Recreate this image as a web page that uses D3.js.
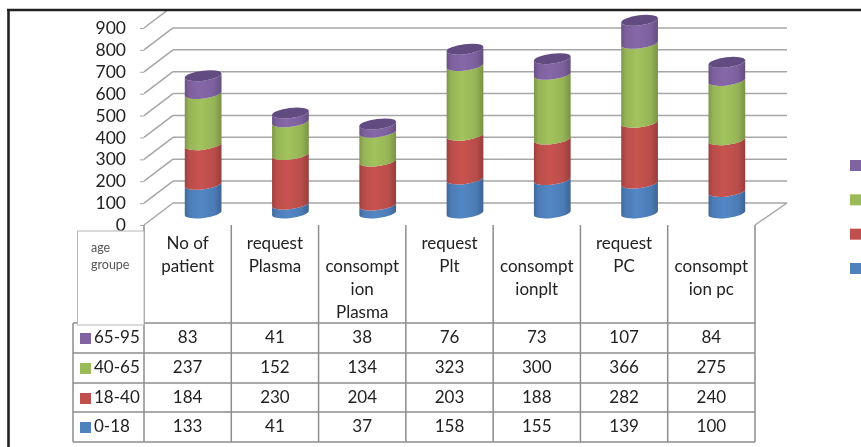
<!DOCTYPE html>
<html>
  <head>
    <meta charset="utf-8">
    <title>Age groups</title>
    <script src="https://d3js.org/d3.v7.min.js"></script>
    <style>
      html, body { margin: 0; padding: 0; background: #fff; overflow: hidden; }
      svg { display: block; filter: blur(0.4px); }
      text { font-family: Lato, "Open Sans", sans-serif; fill: #222; }
    </style>
  </head>
  <body>
    <script>
      // leading \n = label starts on the second line of the header cell
      var categories = ["No of\npatient", "request\nPlasma", "\nconsompt\nion\nPlasma", "request\nPlt", "\nconsompt\nionplt", "request\nPC", "\nconsompt\nion pc"];
      var groups = ["0-18", "18-40", "40-65", "65-95"];
      var age0to18 = [133, 41, 37, 158, 155, 139, 100];
      var age18to40 = [184, 230, 204, 203, 188, 282, 240];
      var age40to65 = [237, 152, 134, 323, 300, 366, 275];
      var age65to95 = [83, 41, 38, 76, 73, 107, 84];
      var colors = ["#4f81bd", "#c0504d", "#9bbb59", "#8064a2"];
      var yTicks = [0, 100, 200, 300, 400, 500, 600, 700, 800, 900];

      var width = 861, height = 447;
      var svg = d3.select("body").append("svg")
        .attr("width", width)
        .attr("height", height);
      var defs = svg.append("defs");

      var series = [age0to18, age18to40, age40to65, age65to95];
      var rows = categories.map(function(c, i) {
        var row = {category: c};
        groups.forEach(function(g, j) { row[g] = series[j][i]; });
        return row;
      });
      var stacked = d3.stack().keys(groups)(rows);

      var x = d3.scaleBand().domain(categories).range([144, 755]);
      var y = d3.scaleLinear().domain([0, 900]).range([225, 28]);
      // bars stand mid floor, a bit shorter than the front axis because of the perspective
      var barY = d3.scaleLinear().domain([0, 900]).range([213, 19]);
      var depthX = 29, depthY = -22, barShift = 15.5;
      var rx = 18.5, ry = 5, tilt = -7;

      // cylinder shading
      function addGradient(id, color) {
        var g = defs.append("linearGradient").attr("id", id);
        var c = d3.color(color);
        var stops = [[0, c.darker(0.6)], [0.12, c.darker(0.1)], [0.42, c.brighter(0.12)], [0.8, c.darker(0.1)], [1, c.darker(0.7)]];
        stops.forEach(function(s) {
          g.append("stop").attr("offset", s[0]).attr("stop-color", s[1].formatHex());
        });
      }
      colors.forEach(function(c, i) { addGradient("cyl" + i, c); });

      var clip = defs.append("clipPath").attr("id", "frameClip");
      clip.append("rect").attr("x", 10).attr("y", 11).attr("width", width).attr("height", height);

      // walls and floor
      var wall = svg.append("g").attr("clip-path", "url(#frameClip)")
        .attr("stroke", "#a6a6a6").attr("stroke-width", 1.5).attr("fill", "none");
      yTicks.forEach(function(t) {
        wall.append("line")
          .attr("x1", x.range()[0]).attr("y1", y(t))
          .attr("x2", x.range()[0] + depthX).attr("y2", y(t) + depthY);
        wall.append("line")
          .attr("x1", x.range()[0] + depthX).attr("y1", y(t) + depthY)
          .attr("x2", x.range()[1] + depthX + 3).attr("y2", y(t) + depthY);
      });
      wall.append("line")
        .attr("x1", x.range()[1]).attr("y1", y(0))
        .attr("x2", x.range()[1] + depthX + 3).attr("y2", y(0) + depthY);

      // y axis, only the labels and the little ticks show
      var axis = svg.append("g")
        .attr("transform", "translate(" + x.range()[0] + ",0)")
        .call(d3.axisLeft(y).tickValues(yTicks).tickSize(4).tickPadding(14));
      axis.select(".domain").remove();
      axis.selectAll("line").attr("stroke", "#a6a6a6");
      axis.selectAll("text").style("font-size", "17.5px").style("font-family", "Lato").attr("fill", "#222");

      function barX(cat) { return x(cat) + x.bandwidth() / 2 + barShift; }
      var a = tilt * Math.PI / 180;
      var dx = rx * Math.cos(a), dy = rx * Math.sin(a);

      function segmentPath(cx, yBottom, yTop) {
        return "M" + (cx - dx) + "," + (yBottom - dy)
          + "A" + rx + "," + ry + " " + tilt + " 0 0 " + (cx + dx) + "," + (yBottom + dy)
          + "L" + (cx + dx) + "," + (yTop + dy)
          + "A" + rx + "," + ry + " " + tilt + " 0 1 " + (cx - dx) + "," + (yTop - dy)
          + "Z";
      }

      var bars = svg.append("g");
      stacked.forEach(function(layer, i) {
        bars.append("g").selectAll("path")
          .data(layer)
          .join("path")
          .attr("fill", "url(#cyl" + i + ")")
          .attr("d", function(d) { return segmentPath(barX(d.data.category), barY(d[0]), barY(d[1])); });
      });

      // lid of each cylinder
      bars.append("g").selectAll("ellipse")
        .data(stacked[3])
        .join("ellipse")
        .attr("rx", rx).attr("ry", ry)
        .attr("fill", "#624b80")
        .attr("transform", function(d) {
          return "translate(" + barX(d.data.category) + "," + barY(d[1]) + ") rotate(" + tilt + ")";
        });

      // data table
      var rowLines = [323, 353, 383, 412, 442];
      var columns = categories.map(function(c) { return x(c); }).concat([x.range()[1]]);
      var table = svg.append("g");
      var tableLines = table.append("g").attr("stroke", "#8c8c8c").attr("stroke-width", 1.5);
      columns.forEach(function(cx) {
        tableLines.append("line").attr("x1", cx).attr("x2", cx).attr("y1", 225).attr("y2", 442);
      });
      rowLines.forEach(function(ry2) {
        tableLines.append("line").attr("x1", 73).attr("x2", x.range()[1]).attr("y1", ry2).attr("y2", ry2);
      });
      tableLines.append("line").attr("x1", 73).attr("x2", 73).attr("y1", 323).attr("y2", 442);

      // corner cell sits on top of the row labels column
      table.append("rect")
        .attr("x", 77.5).attr("y", 231).attr("width", 66.5).attr("height", 94)
        .attr("fill", "#fff").attr("stroke", "#b5b5b5");
      table.append("text").attr("x", 91).attr("y", 252)
        .style("font-size", "12.5px").style("fill", "#555").text("age");
      table.append("text").attr("x", 91).attr("y", 269)
        .style("font-size", "12.5px").style("fill", "#555").text("groupe");

      categories.forEach(function(c) {
        c.split("\n").forEach(function(line, i) {
          table.append("text")
            .attr("x", x(c) + x.bandwidth() / 2)
            .attr("y", 249 + i * 23)
            .attr("text-anchor", "middle")
            .style("font-size", "17px")
            .text(line);
        });
      });

      // rows run top down, oldest group first
      d3.range(groups.length).reverse().forEach(function(g, r) {
        var baseline = rowLines[r] + 20;
        table.append("rect")
          .attr("x", 80).attr("y", baseline - 10).attr("width", 11).attr("height", 11)
          .attr("fill", colors[g]);
        table.append("text").attr("x", 94).attr("y", baseline)
          .style("font-size", "17px").text(groups[g]);
        series[g].forEach(function(v, i) {
          table.append("text")
            .attr("x", x(categories[i]) + x.bandwidth() / 2)
            .attr("y", baseline)
            .attr("text-anchor", "middle")
            .style("font-size", "17px")
            .text(v);
        });
      });

      // legend, its labels are cut off by the edge of the picture
      var legendY = d3.scalePoint().domain(d3.range(groups.length).reverse()).range([165, 268]);
      svg.append("g").selectAll("rect")
        .data(d3.range(groups.length))
        .join("rect")
        .attr("x", 850).attr("width", 11).attr("height", 11)
        .attr("y", function(g) { return legendY(g) - 5; })
        .attr("fill", function(g) { return colors[g]; });

      // frame of the page the chart was scanned from
      var frame = svg.append("g").attr("stroke", "#222").attr("stroke-width", 2.6);
      frame.append("line").attr("x1", 7).attr("x2", width).attr("y1", 10).attr("y2", 10);
      frame.append("line").attr("x1", 8.5).attr("x2", 8.5).attr("y1", 10).attr("y2", height);
    </script>
  </body>
</html>
